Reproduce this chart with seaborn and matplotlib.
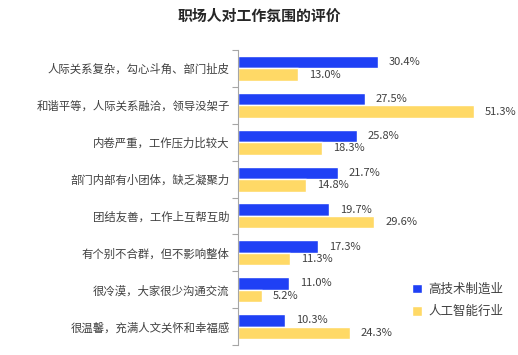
import matplotlib
matplotlib.use("Agg")
import matplotlib.pyplot as plt
import seaborn as sns
import pandas as pd
import numpy as np
from matplotlib.patches import Patch

categories = ["人际关系复杂，勾心斗角、部门扯皮",
              "和谐平等，人际关系融洽，领导没架子",
              "内卷严重，工作压力比较大",
              "部门内部有小团体，缺乏凝聚力",
              "团结友善，工作上互帮互助",
              "有个别不合群，但不影响整体",
              "很冷漠，大家很少沟通交流",
              "很温馨，充满人文关怀和幸福感"]
series_names = ["高技术制造业", "人工智能行业"]
hightech = [30.4, 27.5, 25.8, 21.7, 19.7, 17.3, 11.0, 10.3]
ai = [13.0, 51.3, 18.3, 14.8, 29.6, 11.3, 5.2, 24.3]
colors = ["#1f40f5", "#ffd966"]

sns.set_theme(style="white")
plt.rcParams['font.family'] = ['Noto Sans CJK SC', 'DejaVu Sans']

df = pd.DataFrame({
    "category": categories * 2,
    "series": [series_names[0]] * len(categories) + [series_names[1]] * len(categories),
    "value": hightech + ai,
})

fig = plt.figure(figsize=(5.18, 3.55), dpi=100)
ax = fig.add_axes([238/518, 1 - 345/355, 276/518, 295/355])
sns.barplot(data=df, y="category", x="value", hue="series", orient="h",
            palette=colors, width=0.68, ax=ax, legend=False, saturation=1)

ax.set_xlim(0, 60)
ax.set_ylim(len(categories) - 0.5, -0.5)
ax.set_xlabel("")
ax.set_ylabel("")
ax.set_xticks([])
for s in ["top", "right", "bottom"]:
    ax.spines[s].set_visible(False)
ax.spines["left"].set_color("#a6a6a6")
ax.spines["left"].set_linewidth(0.8)
ax.tick_params(axis="y", which="major", length=0, pad=6, labelsize=8.2, labelcolor="#404040")
ax.set_yticks(np.arange(-0.5, len(categories), 1), minor=True)
ax.tick_params(axis="y", which="minor", length=4, color="#a6a6a6", width=0.8, left=True)

for cont in ax.containers:
    ax.bar_label(cont, labels=[f"{v:.1f}%" for v in cont.datavalues],
                 padding=8, fontsize=8, color="#404040")

handles = [Patch(facecolor=c, label=n) for c, n in zip(colors, series_names)]
ax.legend(handles=handles, loc="upper left", bbox_to_anchor=(0.60, 0.24), frameon=False,
          fontsize=9, handlelength=0.8, handleheight=0.8, handletextpad=0.45,
          labelspacing=0.75, labelcolor="#404040", borderpad=0.2)

fig.text(0.5, 1 - 16/355, "职场人对工作氛围的评价", ha="center", va="center",
         fontsize=10.7, fontweight="bold", color="#262626")

fig.savefig("out.png", dpi=100)
